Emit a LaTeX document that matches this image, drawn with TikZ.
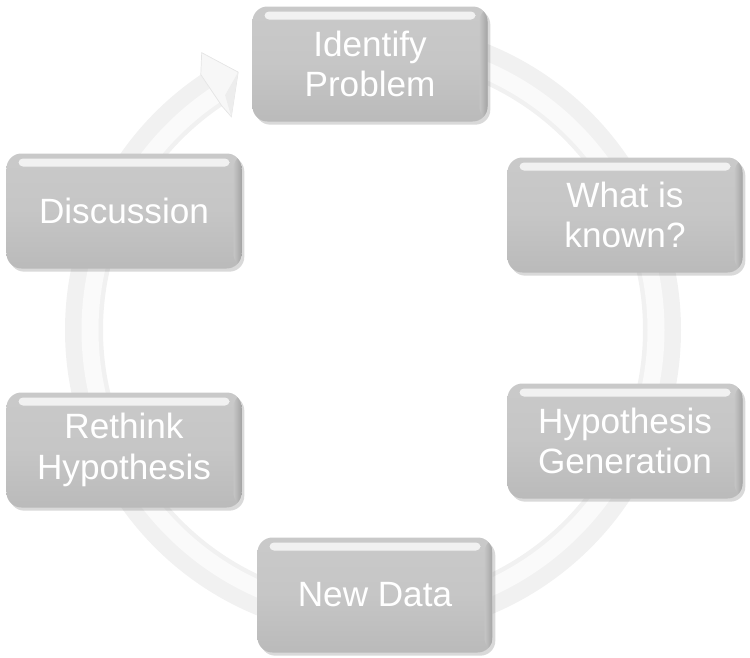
\documentclass[tikz,border=0pt]{standalone}
\usepackage{fontspec}
\setmainfont{Liberation Sans}
\usepackage{xcolor}
\usepackage{tikz}
\usetikzlibrary{calc, shadows}

\tikzset{
    stagebox/.style={
        rounded corners=8.5pt, draw=none,
        top color=gray!42, bottom color=gray!54, middle color=gray!45,
        text=white, font=\fontsize{20}{23}\selectfont, align=center,
        minimum width=4.7cm, minimum height=2.3cm, inner sep=0pt,
        drop shadow={shadow xshift=1.6pt, shadow yshift=-1.8pt, opacity=0.3},
        path picture={
            % vet sang phia tren
            \fill[white, opacity=0.75, rounded corners=2.5pt]
                ($(path picture bounding box.north west)+(0.24,-0.1)$) rectangle
                ($(path picture bounding box.north east)+(-0.24,-0.26)$);
            % mep phai toi hon
            \shade[left color=gray!45, right color=gray!72]
                ($(path picture bounding box.north east)+(-0.16,0)$) rectangle
                (path picture bounding box.south east);
        }
    },
    ringband/.style={line width=0.76cm, gray!11},
    ringlight/.style={line width=0.34cm, gray!4}
}

\begin{document}
\begin{tikzpicture}

    \useasboundingbox (0,0) rectangle (15,-13.16);

    % =================================================================
    % 1. TAM VA BAN KINH VONG TRON
    % =================================================================
    \coordinate (C) at (7.46,-6.6);

    % =================================================================
    % 2. VONG MUI TEN PHIA SAU
    % =================================================================
    \draw[ringband] ($(C)+(90:5.78)$) arc (90:-236:5.78);
    \draw[ringlight] ($(C)+(90:5.66)$) arc (90:-236:5.66);

    % Dau mui ten (goc tren ben trai)
    \filldraw[fill=gray!6, draw=gray!20, line width=0.4pt]
        ($(C)+(124:6.16)$) -- ($(C)+(121.7:6.52)$) -- ($(C)+(117.6:5.82)$)
        -- ($(C)+(123.6:5.12)$) -- ($(C)+(124:5.40)$) -- cycle;
    \fill[gray!14] ($(C)+(117.6:5.82)$) -- ($(C)+(123.6:5.12)$)
        -- ($(C)+(122.2:5.55)$) -- cycle;

    % =================================================================
    % 3. CAC O BUOC
    % =================================================================
    \node[stagebox] (identify)   at (7.40,-1.28)  {Identify\\Problem};
    \node[stagebox] (known)      at (12.50,-4.30) {What is\\known?};
    \node[stagebox] (hypgen)     at (12.50,-8.82) {Hypothesis\\Generation};
    \node[stagebox] (newdata)    at (7.50,-11.90) {New Data};
    \node[stagebox] (rethink)    at (2.48,-9.00)  {Rethink\\Hypothesis};
    \node[stagebox] (discussion) at (2.48,-4.22)  {Discussion};

\end{tikzpicture}
\end{document}
